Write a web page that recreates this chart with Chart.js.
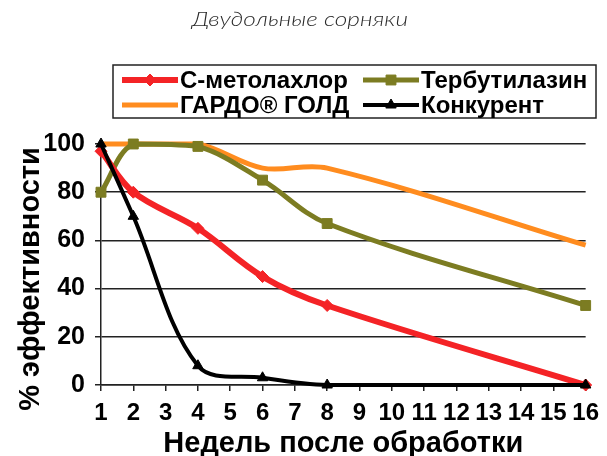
<!DOCTYPE html>
<html>
<head>
<meta charset="utf-8">
<script src="https://cdn.jsdelivr.net/npm/chart.js@4/dist/chart.umd.min.js"></script>
<style>
  html, body { margin: 0; padding: 0; background: #fff; }
  #wrap { width: 607px; height: 456px; }
</style>
</head>
<body>
<div id="wrap"><canvas id="c" width="607" height="456"></canvas></div>
<script>
// Efficacy against broadleaf weeds, % by week after treatment
const chartTitle = 'Двудольные сорняки';
const xTitle = 'Недель после обработки';
const yTitle = '% эффективности';
const weekLabels = ['1','2','3','4','5','6','7','8','9','10','11','12','13','14','15','16'];
const weeks = ['1', '2', '4', '6', '8', '16'];
const seriesNames = ['С-метолахлор', 'Тербутилазин', 'ГАРДО® ГОЛД', 'Конкурент'];
const metolachlor = [97, 80, 65, 45, 33, 0];
const terbuthylazine = [80, 100, 99, 85, 67, 33];
const gardoGold = [100, 100, 100, 90, 90, 58];
const competitor = [100, 70, 8, 3, 0, 0];
const yMin = 0, yMax = 100, yStep = 20;

const FONT = '"Liberation Sans", Arial, sans-serif';
const pts = vals => weeks.map((w, i) => ({ x: w, y: vals[i] }));

const styles = [
  { color: '#f42326', width: 6, pointStyle: 'rectRot', radius: 6, order: 1 },
  { color: '#7c7c22', width: 5, pointStyle: 'rect', radius: 7, order: 2 },
  { color: '#ff8c1f', width: 5, pointStyle: false, radius: 0, order: 3 },
  { color: '#000000', width: 4, pointStyle: 'triangle', radius: 6, order: 0 }
];
const seriesValues = [metolachlor, terbuthylazine, gardoGold, competitor];

const datasets = seriesNames.map((name, i) => ({
  label: name,
  data: pts(seriesValues[i]),
  borderColor: styles[i].color,
  backgroundColor: styles[i].color,
  borderWidth: styles[i].width,
  pointStyle: styles[i].pointStyle,
  pointRadius: styles[i].radius,
  pointBorderWidth: 1,
  pointBorderColor: styles[i].color,
  pointBackgroundColor: styles[i].color,
  tension: 0.35,
  order: styles[i].order,
  clip: { left: 12, right: 12, top: 12, bottom: 8 }
}));

// Title, rotated y-axis caption and boxed two-column legend, drawn on the canvas
const decorations = {
  id: 'decorations',
  afterDraw(chart) {
    const ctx = chart.ctx;
    ctx.save();

    // chart title: light, wide italic
    ctx.fillStyle = '#2a2a2a';
    ctx.font = 'italic 300 20px Lato, "DejaVu Sans", sans-serif';
    ctx.textAlign = 'center';
    ctx.textBaseline = 'alphabetic';
    const w = ctx.measureText(chartTitle).width;
    ctx.save();
    ctx.translate(300, 26);
    ctx.scale(216 / w, 1);
    ctx.fillText(chartTitle, 0, 0);
    ctx.restore();

    // y-axis caption
    ctx.save();
    ctx.translate(29, 279);
    ctx.rotate(-Math.PI / 2);
    ctx.fillStyle = '#000';
    ctx.font = 'bold 29px ' + FONT;
    ctx.textAlign = 'center';
    ctx.textBaseline = 'middle';
    ctx.fillText(yTitle, 0, 2);
    ctx.restore();

    // legend
    ctx.strokeStyle = '#222';
    ctx.lineWidth = 1.5;
    ctx.strokeRect(113, 65, 483, 53);

    const slots = [[122, 80], [363, 80], [122, 105], [363, 105]];
    ctx.font = 'bold 24px ' + FONT;
    ctx.textAlign = 'left';
    ctx.textBaseline = 'middle';
    chart.data.datasets.forEach((ds, i) => {
      const [x, y] = slots[i];
      ctx.strokeStyle = ds.borderColor;
      ctx.lineWidth = ds.borderWidth;
      ctx.beginPath();
      ctx.moveTo(x, y);
      ctx.lineTo(x + 56, y);
      ctx.stroke();
      if (ds.pointStyle) {
        ctx.fillStyle = ds.backgroundColor;
        ctx.lineWidth = 1;
        Chart.helpers.drawPoint(ctx, { pointStyle: ds.pointStyle, radius: ds.pointRadius, rotation: 0, borderWidth: 1 }, x + 28, y);
      }
      ctx.fillStyle = '#000';
      ctx.fillText(ds.label, x + 58, y + 1);
    });
    ctx.restore();
  }
};

new Chart(document.getElementById('c'), {
  type: 'line',
  data: { labels: weekLabels, datasets },
  options: {
    responsive: false,
    animation: false,
    events: [],
    devicePixelRatio: 1,
    layout: { padding: { top: 144, right: 15, bottom: 0, left: 0 } },
    plugins: { legend: { display: false }, title: { display: false }, tooltip: { enabled: false } },
    scales: {
      x: {
        type: 'category',
        afterFit: s => { s.height = 71; },
        grid: { drawOnChartArea: false, drawTicks: true, tickLength: 6, color: '#222', lineWidth: 1.5 },
        border: { display: true, color: '#222', width: 1.5 },
        ticks: { color: '#000', font: { family: FONT, weight: 'bold', size: 24 }, padding: 8, maxRotation: 0, autoSkip: false },
        title: { display: true, text: xTitle, color: '#000', font: { family: FONT, weight: 'bold', size: 29, lineHeight: 1 }, padding: { top: 0, bottom: -2 } }
      },
      y: {
        min: yMin, max: yMax,
        afterFit: s => { s.width = 101; },
        grid: { drawOnChartArea: true, drawTicks: true, tickLength: 6, color: '#222', lineWidth: 1.5 },
        border: { display: true, color: '#222', width: 1.5 },
        ticks: { stepSize: yStep, color: '#000', font: { family: FONT, weight: 'bold', size: 25 }, padding: 10 }
      }
    }
  },
  plugins: [decorations]
});
</script>
</body>
</html>
